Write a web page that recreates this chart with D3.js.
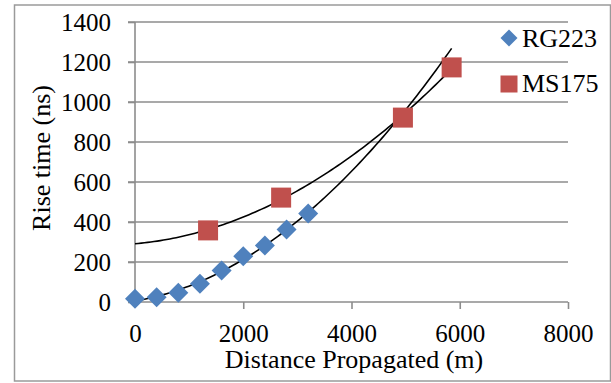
<!DOCTYPE html>
<html>
<head>
<meta charset="utf-8">
<script src="https://cdn.jsdelivr.net/npm/d3@7"></script>
<style>
  html, body { margin: 0; padding: 0; background: #fff; }
</style>
</head>
<body>
<div id="chart"></div>
<script>
// RG223 cable measurements
var rgDistance = [0, 400, 800, 1200, 1600, 2000, 2400, 2800, 3200];
var rgRise = [16, 24, 46, 91, 158, 229, 283, 363, 442];

// MS175 cable measurements
var msDistance = [1350, 2700, 4950, 5850];
var msRise = [358, 522, 922, 1173];

var xTicks = [0, 2000, 4000, 6000, 8000];
var yTicks = [0, 200, 400, 600, 800, 1000, 1200, 1400];
var seriesNames = ["RG223", "MS175"];
var trendRange = [0, 5850];   // trendlines forecast over this span

var serif = '"Liberation Serif", "Times New Roman", serif';

var W = 611, H = 383,
    margin = { top: 22, right: 43, bottom: 81, left: 135 },
    width = W - margin.left - margin.right,
    height = H - margin.top - margin.bottom;

var svg = d3.select('#chart').append('svg').attr('width', W).attr('height', H);

// outer frame
svg.append('rect')
    .attr('x', 14.5).attr('y', 5).attr('width', W - 15).attr('height', H - 7)
    .attr('fill', 'none').attr('stroke', '#9a9a9a').attr('stroke-width', 1.5);

var g = svg.append('g').attr('transform', 'translate(' + margin.left + ',' + margin.top + ')');

var x = d3.scaleLinear().domain([0, 8000]).range([0, width]);
var y = d3.scaleLinear().domain([0, 1400]).range([height, 0]);

// gridlines + left ticks
g.append('g')
    .selectAll('line')
    .data(yTicks.filter(function (d) { return d > 0; }))
    .enter().append('line')
    .attr('x1', -7).attr('x2', width)
    .attr('y1', function (d) { return y(d); }).attr('y2', function (d) { return y(d); })
    .attr('stroke', '#8c8c8c').attr('stroke-width', 1.6);

// y axis
var yAxis = g.append('g')
    .call(d3.axisLeft(y).tickValues(yTicks).tickSize(7).tickPadding(17).tickFormat(d3.format('d')));
yAxis.select('.domain').remove();
yAxis.selectAll('line').attr('stroke', '#8c8c8c').attr('stroke-width', 1.6);
yAxis.selectAll('text').attr('font-size', '25px').style('font-family', serif).attr('fill', '#000');

g.append('line')
    .attr('x1', 0).attr('x2', 0).attr('y1', 0).attr('y2', height)
    .attr('stroke', '#8c8c8c').attr('stroke-width', 1.6);

// x axis
var xAxis = g.append('g')
    .attr('transform', 'translate(0,' + height + ')')
    .call(d3.axisBottom(x).tickValues(xTicks).tickSize(7).tickPadding(15).tickFormat(d3.format('d')));
xAxis.select('.domain').attr('stroke', '#8c8c8c').attr('stroke-width', 1.6).attr('d', 'M0,0H' + width);
xAxis.selectAll('.tick line').attr('stroke', '#8c8c8c').attr('stroke-width', 1.6)
    .filter(function (d) { return d === 0; }).remove();
xAxis.selectAll('text').attr('font-size', '25px').style('font-family', serif).attr('fill', '#000');

// least squares quadratic fit (Excel style polynomial trendline)
function polyFit2(xs, ys) {
    var s = [0, 0, 0, 0, 0], t = [0, 0, 0];
    var sc = 1000;
    xs.forEach(function (xv, i) {
        var u = xv / sc;
        for (var k = 0; k < 5; k++) s[k] += Math.pow(u, k);
        for (var k2 = 0; k2 < 3; k2++) t[k2] += Math.pow(u, k2) * ys[i];
    });
    var A = [[s[0], s[1], s[2], t[0]], [s[1], s[2], s[3], t[1]], [s[2], s[3], s[4], t[2]]];
    for (var i = 0; i < 3; i++) {
        for (var j = i + 1; j < 3; j++) {
            var f = A[j][i] / A[i][i];
            for (var k = i; k < 4; k++) A[j][k] -= f * A[i][k];
        }
    }
    var c = [0, 0, 0];
    for (var i2 = 2; i2 >= 0; i2--) {
        var v = A[i2][3];
        for (var k3 = i2 + 1; k3 < 3; k3++) v -= A[i2][k3] * c[k3];
        c[i2] = v / A[i2][i2];
    }
    return function (xv) { var u = xv / sc; return c[0] + c[1] * u + c[2] * u * u; };
}

var line = d3.line().x(function (d) { return x(d[0]); }).y(function (d) { return y(d[1]); });

[[rgDistance, rgRise], [msDistance, msRise]].forEach(function (s) {
    var fit = polyFit2(s[0], s[1]);
    var pts = d3.range(0, 101).map(function (i) {
        var xv = trendRange[0] + (trendRange[1] - trendRange[0]) * i / 100;
        return [xv, fit(xv)];
    });
    g.append('path').datum(pts).attr('d', line)
        .attr('fill', 'none').attr('stroke', '#000').attr('stroke-width', 1.6);
});

var diamond = function (r) { return 'M0,' + (-r) + 'L' + r + ',0L0,' + r + 'L' + (-r) + ',0Z'; };

// RG223 diamonds
g.append('g').selectAll('path')
    .data(rgDistance.map(function (d, i) { return [d, rgRise[i]]; }))
    .enter().append('path')
    .attr('d', diamond(10))
    .attr('transform', function (d) { return 'translate(' + x(d[0]) + ',' + y(d[1]) + ')'; })
    .attr('fill', '#4F81BD');

// MS175 squares
g.append('g').selectAll('rect')
    .data(msDistance.map(function (d, i) { return [d, msRise[i]]; }))
    .enter().append('rect')
    .attr('x', function (d) { return x(d[0]) - 10; })
    .attr('y', function (d) { return y(d[1]) - 10; })
    .attr('width', 20).attr('height', 20)
    .attr('fill', '#C0504D');

// axis titles
svg.append('text')
    .attr('x', 354).attr('y', 368)
    .attr('text-anchor', 'middle').attr('font-size', '26px').style('font-family', serif)
    .text('Distance Propagated (m)');

svg.append('text')
    .attr('transform', 'translate(50,158) rotate(-90)')
    .attr('text-anchor', 'middle').attr('font-size', '26px').style('font-family', serif)
    .text('Rise time (ns)');

// legend
var legend = svg.append('g').attr('transform', 'translate(509,0)');
legend.append('path').attr('d', diamond(8.5)).attr('transform', 'translate(0,38)').attr('fill', '#4F81BD');
legend.append('rect').attr('x', -8.5).attr('y', 75.5).attr('width', 17).attr('height', 17).attr('fill', '#C0504D');
legend.selectAll('text.lbl')
    .data(seriesNames)
    .enter().append('text')
    .attr('class', 'lbl')
    .attr('x', 13)
    .attr('y', function (d, i) { return 47 + i * 45; })
    .attr('font-size', '26px').style('font-family', serif)
    .text(function (d) { return d; });
</script>
</body>
</html>
